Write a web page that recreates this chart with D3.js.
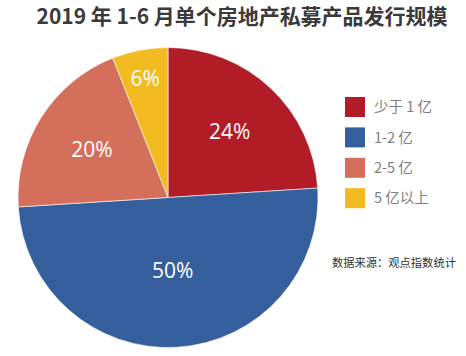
<!DOCTYPE html>
<html><head><meta charset="utf-8">
<script src="https://cdn.jsdelivr.net/npm/d3@7/dist/d3.min.js"></script>
<style>html,body{margin:0;padding:0;background:#fff;}</style>
</head><body>
<svg id="c" width="466" height="356"></svg>
<script>
const categories = ["少于 1 亿", "1-2 亿", "2-5 亿", "5 亿以上"];
const values = [24, 50, 20, 6];
const labels = ["24%", "50%", "20%", "6%"];
const colors = ["#B11C26", "#355F9C", "#D46F5C", "#F4BA21"];
const labelRadius = [0.6, 0.485, 0.6, 0.81];

const svg = d3.select("#c");
const cx = 168, cy = 197.5, R = 150;

function fitWidth(sel, w) {
  const n = sel.node();
  const len = n.getComputedTextLength();
  const fs = parseFloat(sel.attr("font-size"));
  if (len > 0) sel.attr("font-size", fs * w / len);
}

const title = svg.append("text").attr("x", 242).attr("y", 24).attr("text-anchor", "middle")
  .attr("font-family", "'Noto Sans CJK SC', sans-serif").attr("font-weight", "bold")
  .attr("font-size", 20).attr("fill", "#3a3a3a")
  .text("2019 年 1-6 月单个房地产私募产品发行规模");
fitWidth(title, 411);

const pie = d3.pie().sort(null).value(d => d);
const arcs = pie(values);
const arc = d3.arc().innerRadius(0).outerRadius(R);
const g = svg.append("g").attr("transform", `translate(${cx},${cy})`);
g.selectAll("path").data(arcs).join("path")
  .attr("d", arc).attr("fill", (d, i) => colors[i])
  .attr("stroke", "#fff").attr("stroke-width", 0.6);

g.selectAll("text.lbl").data(arcs).join("text").attr("class", "lbl")
  .attr("transform", (d, i) => {
    const r = R * labelRadius[i];
    const c = d3.arc().innerRadius(r).outerRadius(r).centroid(d);
    return `translate(${c[0]},${c[1]})`;
  })
  .attr("text-anchor", "middle").attr("dy", "0.36em")
  .attr("font-family", "'Open Sans', sans-serif").attr("font-size", 21)
  .attr("fill", "#fff").text((d, i) => labels[i]);

const lg = svg.append("g").attr("transform", "translate(345,97)");
const items = lg.selectAll("g").data(categories).join("g")
  .attr("transform", (d, i) => `translate(0,${i * 30.4})`);
items.append("rect").attr("width", 20).attr("height", 20).attr("fill", (d, i) => colors[i]);
items.append("text").attr("x", 29).attr("y", 10).attr("dy", "0.36em")
  .attr("font-family", "'Noto Sans CJK SC', sans-serif").attr("font-size", 14.5)
  .attr("fill", "#7f7f7f").text(d => d);

const src = svg.append("text").attr("x", 332).attr("y", 263).attr("dy", "0.36em")
  .attr("font-family", "'Noto Sans CJK SC', sans-serif").attr("font-size", 12)
  .attr("fill", "#333").text("数据来源：观点指数统计");
fitWidth(src, 124);
</script>
</body></html>
